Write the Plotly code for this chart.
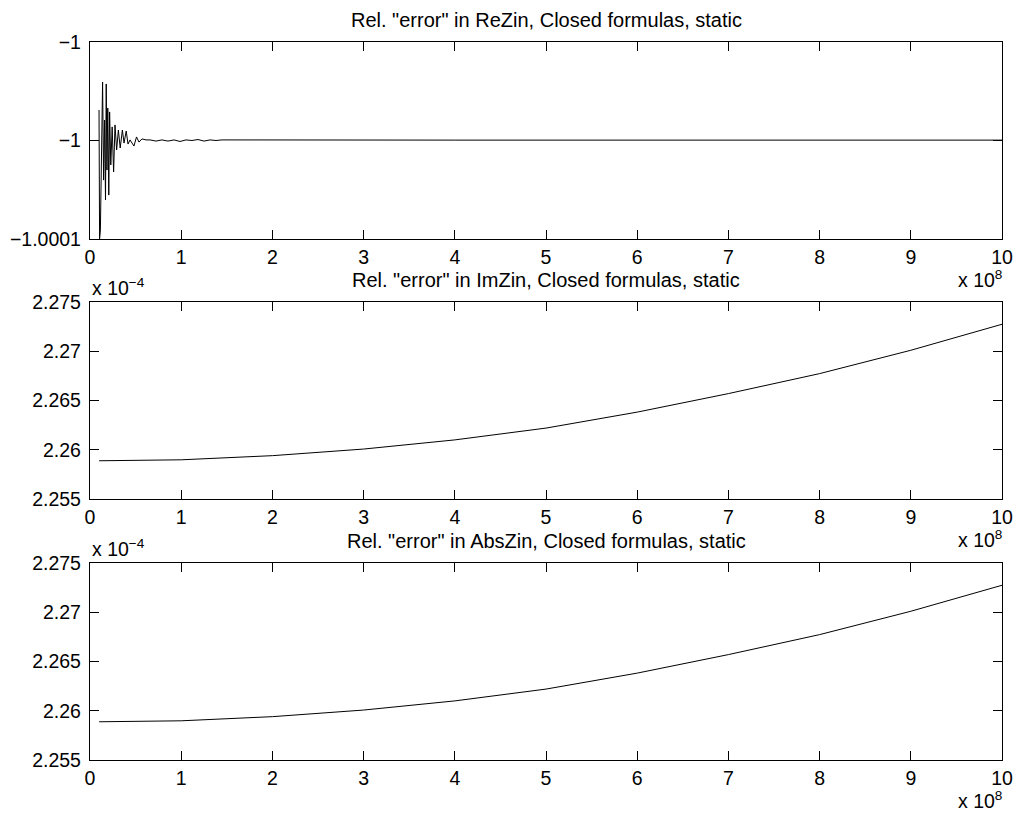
import plotly.graph_objects as go

W, H = 1019, 827

# ---------------- data ----------------
# frequency axis in units of 1e8 Hz
re_x = [0.099, 0.105, 0.114, 0.126, 0.138, 0.149, 0.160, 0.170, 0.178, 0.186,
        0.195, 0.206, 0.215, 0.228, 0.243, 0.259, 0.274, 0.292, 0.311, 0.331,
        0.355, 0.373, 0.397, 0.417, 0.439, 0.461, 0.482, 0.510, 0.537, 0.570,
        0.614, 0.658, 0.724, 0.789, 0.855, 0.921, 0.987, 1.053, 1.118, 1.184,
        1.250, 1.316, 1.382, 1.447, 2, 3, 4, 5, 6, 7, 8, 9, 10]
re_y = [-1.0000345, -1.0000999, -1.0000954, -1.0000675, -1.0000203, -1.0000701,
        -1.0000396, -1.0000802, -1.0000213, -1.0000650, -1.0000335, -1.0000777,
        -1.0000355, -1.0000624, -1.0000431, -1.0000660, -1.0000421, -1.0000548,
        -1.0000447, -1.0000538, -1.0000447, -1.0000513, -1.0000452, -1.0000518,
        -1.0000497, -1.0000513, -1.0000528, -1.0000482, -1.0000508, -1.0000492,
        -1.0000497, -1.0000497, -1.0000503, -1.0000497, -1.0000503, -1.0000497,
        -1.0000505, -1.0000497, -1.0000500, -1.0000495, -1.0000503, -1.0000497,
        -1.0000500, -1.0000497, -1.0000498, -1.0000498, -1.0000498, -1.0000498,
        -1.0000498, -1.0000498, -1.0000498, -1.0000498, -1.0000498]

# values in units of 1e-4
im_x = [0.1, 1, 2, 3, 4, 5, 6, 7, 8, 9, 10]
im_y = [2.25888, 2.25898, 2.2594, 2.26007, 2.2610, 2.2622, 2.26382, 2.2657, 2.26773, 2.2701, 2.27274]

abs_x = [0.1, 1, 2, 3, 4, 5, 6, 7, 8, 9, 10]
abs_y = [2.25888, 2.25898, 2.2594, 2.26007, 2.2610, 2.2622, 2.26382, 2.2657, 2.26773, 2.2701, 2.27274]

x_ticks = [0, 1, 2, 3, 4, 5, 6, 7, 8, 9, 10]
x_ticktext = ["0", "1", "2", "3", "4", "5", "6", "7", "8", "9", "10"]
re_ticks = [-1.0001, -1.00005, -1.0]
re_ticktext = ["\u22121.0001", "\u22121", "\u22121"]
im_ticks = [2.255, 2.26, 2.265, 2.27, 2.275]
im_ticktext = ["2.255", "2.26", "2.265", "2.27", "2.275"]

titles = ['Rel. "error" in ReZin, Closed formulas, static',
          'Rel. "error" in ImZin, Closed formulas, static',
          'Rel. "error" in AbsZin, Closed formulas, static']

# ---------------- layout helpers ----------------
def px(x):
    return x / W

def py(y):
    return 1 - y / H

LEFT, RIGHT = 90, 1002
panels = [(42, 239), (302, 499), (563, 760)]
FONT = "Liberation Sans, Arial, Helvetica, sans-serif"
FS = 19.5

fig = go.Figure()
series = [(re_x, re_y), (im_x, im_y), (abs_x, abs_y)]
for i, (xs, ys) in enumerate(series):
    n = "" if i == 0 else str(i + 1)
    fig.add_trace(go.Scatter(x=xs, y=ys, mode="lines",
                             line=dict(color="black", width=1),
                             xaxis="x" + n, yaxis="y" + n,
                             showlegend=False, hoverinfo="skip"))

axis_common = dict(showline=True, linecolor="black", linewidth=1.3,
                   mirror="ticks", ticks="inside", ticklen=9, tickwidth=1,
                   tickcolor="black", showgrid=False, zeroline=False,
                   automargin=False,
                   tickfont=dict(family=FONT, size=FS, color="black"))

layout = dict(width=W, height=H, autosize=False,
              margin=dict(l=0, r=0, t=0, b=0, pad=0, autoexpand=False),
              paper_bgcolor="white", plot_bgcolor="white",
              font=dict(family=FONT, size=FS, color="black"),
              showlegend=False)

annotations = []
for i, (top, bot) in enumerate(panels):
    n = "" if i == 0 else str(i + 1)
    layout["xaxis" + n] = dict(axis_common, domain=[px(LEFT), px(RIGHT)],
                               anchor="y" + n, range=[0, 10],
                               tickmode="array", tickvals=x_ticks,
                               ticktext=x_ticktext, ticklabelstandoff=0)
    if i == 0:
        yt, ytt, yr = re_ticks, re_ticktext, [-1.0001, -1.0]
    else:
        yt, ytt, yr = im_ticks, im_ticktext, [2.255, 2.275]
    layout["yaxis" + n] = dict(axis_common, domain=[py(bot), py(top)],
                               anchor="x" + n, range=yr,
                               tickmode="array", tickvals=yt, ticktext=ytt,
                               ticklabelstandoff=4)
    annotations.append(dict(text=titles[i], xref="paper", yref="paper",
                            x=px((LEFT + RIGHT) / 2), y=py(top - 22),
                            xanchor="center", yanchor="middle",
                            showarrow=False,
                            font=dict(family=FONT, size=20, color="black")))
    annotations.append(dict(text="x 10<sup>8</sup>", xref="paper", yref="paper",
                            x=px(RIGHT + 2), y=py(bot + 40),
                            xanchor="right", yanchor="middle",
                            showarrow=False,
                            font=dict(family=FONT, size=FS, color="black")))
    if i > 0:
        annotations.append(dict(text="x 10<sup>\u22124</sup>", xref="paper", yref="paper",
                                x=px(LEFT), y=py(top - 15),
                                xanchor="left", yanchor="middle",
                                showarrow=False,
                                font=dict(family=FONT, size=FS, color="black")))

layout["annotations"] = annotations
fig.update_layout(**layout)
fig.write_html("out.html")
